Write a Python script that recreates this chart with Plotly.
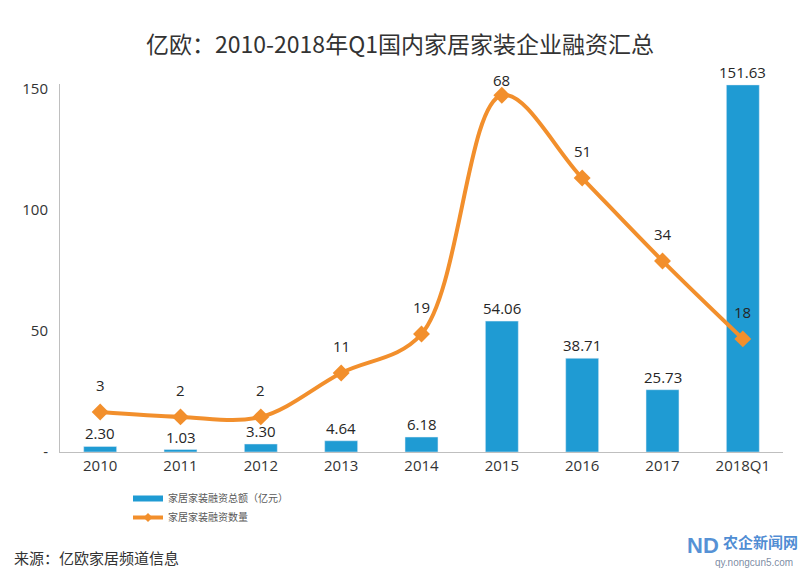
import plotly.graph_objects as go

categories = ["2010", "2011", "2012", "2013", "2014", "2015", "2016", "2017", "2018Q1"]
amount = [2.30, 1.03, 3.30, 4.64, 6.18, 54.06, 38.71, 25.73, 151.63]
count = [3, 2, 2, 11, 19, 68, 51, 34, 18]
amount_labels = [f"{v:.2f}" for v in amount]
count_labels = [str(v) for v in count]
yticks = [0, 50, 100, 150]
ytick_text = ["-", "50", "100", "150"]

BLUE = "#1F9BD3"
ORANGE = "#F28F2C"
FONT = "Open Sans, Noto Sans CJK SC, sans-serif"
TXT = "#262626"

W, H = 800, 578
L, R, T, B = 60, 17, 84, 126
ph = H - T - B
pw = W - L - R

fig = go.Figure()
fig.add_trace(go.Bar(x=categories, y=amount, marker_color=BLUE, width=0.41,
                     showlegend=False, yaxis="y"))
fig.add_trace(go.Scatter(x=categories, y=count, mode="lines+markers", yaxis="y2",
                         line=dict(color=ORANGE, width=4, shape="spline", smoothing=1.0),
                         marker=dict(symbol="diamond", size=13, color=ORANGE),
                         showlegend=False))
# legend entries
fig.add_trace(go.Scatter(x=[None], y=[None], mode="lines", name="家居家装融资总额（亿元）",
                         line=dict(color=BLUE, width=6)))
fig.add_trace(go.Scatter(x=[None], y=[None], mode="lines+markers", name="家居家装融资数量",
                         line=dict(color=ORANGE, width=4),
                         marker=dict(symbol="diamond", size=7, color=ORANGE)))

ann = []
for i, (v, t) in enumerate(zip(amount, amount_labels)):
    ann.append(dict(x=i, y=v, xref="x", yref="y", text=t, showarrow=False,
                    yanchor="bottom", yshift=1, font=dict(size=15, color=TXT, family=FONT)))
for i, (v, t) in enumerate(zip(count, count_labels)):
    shift = 15 if v == max(count) else 27
    ann.append(dict(x=i, y=v, xref="x", yref="y2", text=t, showarrow=False,
                    yanchor="middle", yshift=shift, font=dict(size=15, color=TXT, family=FONT)))

def px(x):
    return (x - L) / pw

def py(y):
    return (H - B - y) / ph

ann.append(dict(x=px(12), y=py(557), xref="paper", yref="paper", text="来源：亿欧家居频道信息",
                showarrow=False, xanchor="left", yanchor="middle",
                font=dict(size=15, color="#333333", family="Noto Sans CJK SC")))
ann.append(dict(x=px(703), y=py(545), xref="paper", yref="paper", text="<b>ND</b>",
                showarrow=False, xanchor="center", yanchor="middle",
                font=dict(size=22, color="rgba(30,110,200,0.75)", family="Liberation Sans, Arial")))
ann.append(dict(x=px(721), y=py(541), xref="paper", yref="paper", text="<b>农企新闻网</b>",
                showarrow=False, xanchor="left", yanchor="middle",
                font=dict(size=15, color="rgba(30,110,200,0.8)", family="Noto Sans CJK SC")))
ann.append(dict(x=px(795), y=py(562), xref="paper", yref="paper", text="qy.nongcun5.com",
                showarrow=False, xanchor="right", yanchor="middle",
                font=dict(size=10, color="rgba(90,110,140,0.8)", family="Liberation Sans, Arial")))

fig.update_layout(
    width=W, height=H,
    margin=dict(l=L, r=R, t=T, b=B, autoexpand=False),
    paper_bgcolor="white", plot_bgcolor="white",
    title=dict(text="亿欧：2010-2018年Q1国内家居家装企业融资汇总", x=0.5, xref="container",
               xanchor="center", y=1 - 45 / H, yref="container", yanchor="middle",
               font=dict(size=23, color="#333333", family="Noto Sans CJK SC")),
    xaxis=dict(type="category", range=[-0.5, 8.5], showline=True, linecolor="#BFBFBF",
               linewidth=1, ticks="", showgrid=False, zeroline=False,
               tickfont=dict(size=15, color="#333333", family=FONT)),
    yaxis=dict(range=[0, 152], tickvals=yticks, ticktext=ytick_text, showline=True,
               linecolor="#BFBFBF", linewidth=1, showgrid=False, zeroline=False, ticks="",
               ticklabelstandoff=8,
               tickfont=dict(size=15, color="#333333", family=FONT)),
    yaxis2=dict(range=[-5.2, 70.3], overlaying="y", visible=False),
    legend=dict(x=px(128), xref="paper", y=py(484), yref="paper",
                xanchor="left", yanchor="top", orientation="v", tracegroupgap=0,
                font=dict(size=10, color="#595959", family="Noto Sans CJK SC"),
                bgcolor="rgba(0,0,0,0)", itemwidth=30),
    annotations=ann,
)

fig.write_html("out.html")
